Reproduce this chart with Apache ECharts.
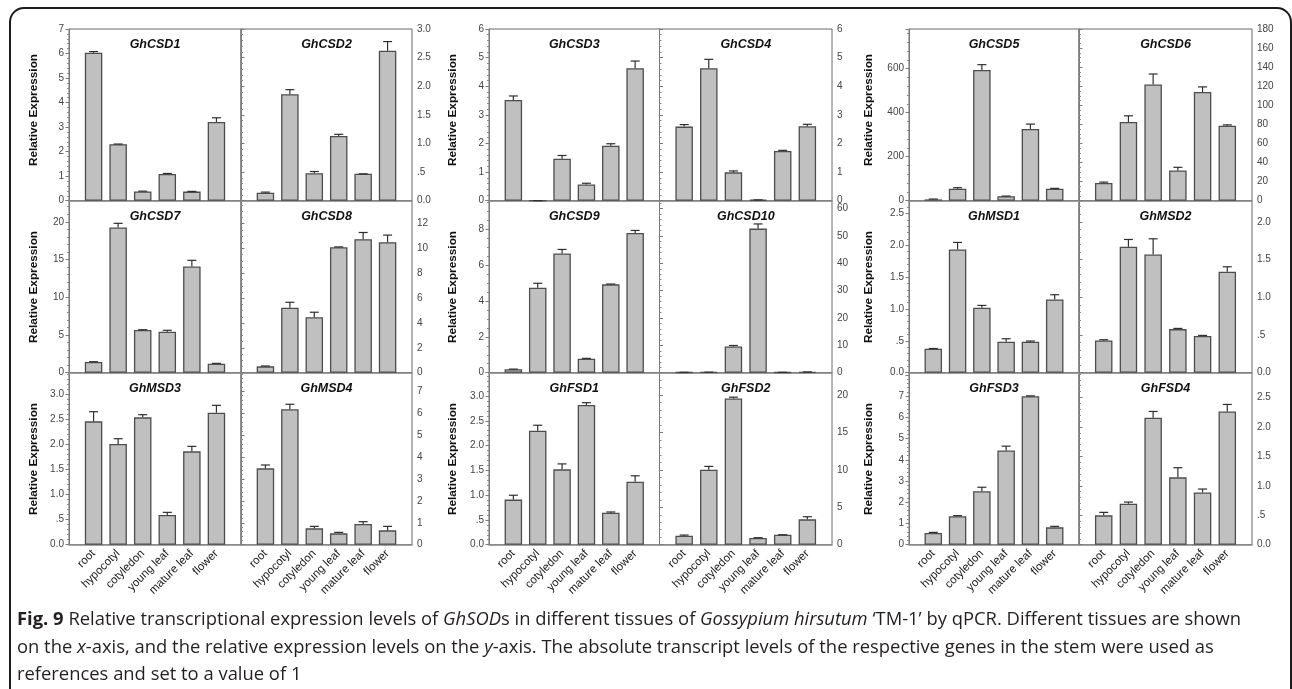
<!DOCTYPE html>
<html>
<head>
<meta charset="utf-8">
<script src="https://cdn.jsdelivr.net/npm/echarts@6/dist/echarts.min.js"></script>
<style>
  html, body { margin: 0; padding: 0; background: #ffffff; }
  #chart { width: 1292px; height: 689px; }
</style>
</head>
<body>
<div id="chart"></div>
<script>
// Tissues on the x-axis
const tissues = ['root', 'hypocotyl', 'cotyledon', 'young leaf', 'mature leaf', 'flower'];

// Relative expression (mean) and standard deviation per gene, in tissue order
const GhCSD1 = [6.03, 2.30, 0.38, 1.09, 0.37, 3.21];
const GhCSD1_sd = [0.05, 0.01, 0.01, 0.02, 0.01, 0.17];
const GhCSD2 = [0.14, 1.86, 0.48, 1.13, 0.47, 2.62];
const GhCSD2_sd = [0.01, 0.08, 0.03, 0.03, 0.00, 0.16];
const GhCSD3 = [3.52, 0.00, 1.47, 0.57, 1.92, 4.63];
const GhCSD3_sd = [0.14, 0.00, 0.11, 0.04, 0.07, 0.25];
const GhCSD4 = [2.59, 4.63, 0.99, 0.03, 1.74, 2.60];
const GhCSD4_sd = [0.07, 0.31, 0.05, 0.00, 0.02, 0.07];
const GhCSD5 = [6, 54, 594, 20, 326, 54];
const GhCSD5_sd = [1.5, 5, 24, 1, 22, 2];
const GhCSD6 = [18.5, 82.5, 121.8, 31.6, 114, 78.5];
const GhCSD6_sd = [1.0, 6.5, 11, 3.4, 5.3, 1.0];
const GhCSD7 = [1.42, 19.25, 5.66, 5.44, 14.07, 1.19];
const GhCSD7_sd = [0.04, 0.55, 0.04, 0.18, 0.83, 0.05];
const GhCSD8 = [0.51, 5.24, 4.46, 10.10, 10.75, 10.51];
const GhCSD8_sd = [0.03, 0.43, 0.41, 0.03, 0.54, 0.57];
const GhCSD9 = [0.19, 4.74, 6.66, 0.78, 4.93, 7.80];
const GhCSD9_sd = [0.01, 0.25, 0.22, 0.02, 0.02, 0.14];
const GhCSD10 = [0.15, 0.20, 9.6, 52.7, 0.15, 0.25];
const GhCSD10_sd = [0.00, 0.00, 0.35, 1.7, 0.00, 0.05];
const GhMSD1 = [0.377, 1.935, 1.02, 0.486, 0.486, 1.15];
const GhMSD1_sd = [0.003, 0.11, 0.036, 0.047, 0.011, 0.074];
const GhMSD2 = [0.428, 1.669, 1.567, 0.578, 0.486, 1.338];
const GhMSD2_sd = [0.009, 0.097, 0.208, 0.009, 0.008, 0.066];
const GhMSD3 = [2.467, 2.013, 2.547, 0.593, 1.867, 2.64];
const GhMSD3_sd = [0.193, 0.107, 0.053, 0.054, 0.10, 0.147];
const GhMSD4 = [3.485, 6.18, 0.746, 0.518, 0.944, 0.654];
const GhMSD4_sd = [0.153, 0.23, 0.091, 0.045, 0.106, 0.183];
const GhFSD1 = [0.91, 2.30, 1.52, 2.817, 0.645, 1.27];
const GhFSD1_sd = [0.088, 0.11, 0.11, 0.048, 0.015, 0.12];
const GhFSD2 = [1.2, 10.02, 19.55, 0.89, 1.34, 3.39];
const GhFSD2_sd = [0.09, 0.45, 0.18, 0.05, 0.00, 0.35];
const GhFSD3 = [0.55, 1.337, 2.517, 4.436, 6.99, 0.818];
const GhFSD3_sd = [0.03, 0.033, 0.189, 0.204, 0.02, 0.047];
const GhFSD4 = [0.498, 0.696, 2.155, 1.143, 0.888, 2.262];
const GhFSD4_sd = [0.051, 0.028, 0.107, 0.164, 0.057, 0.119];

// Panel order: row by row, each block holds a left-axis and a right-axis panel
const geneNames = ['GhCSD1', 'GhCSD2', 'GhCSD3', 'GhCSD4', 'GhCSD5', 'GhCSD6',
                   'GhCSD7', 'GhCSD8', 'GhCSD9', 'GhCSD10', 'GhMSD1', 'GhMSD2',
                   'GhMSD3', 'GhMSD4', 'GhFSD1', 'GhFSD2', 'GhFSD3', 'GhFSD4'];
const geneMeans = [GhCSD1, GhCSD2, GhCSD3, GhCSD4, GhCSD5, GhCSD6,
                   GhCSD7, GhCSD8, GhCSD9, GhCSD10, GhMSD1, GhMSD2,
                   GhMSD3, GhMSD4, GhFSD1, GhFSD2, GhFSD3, GhFSD4];
const geneSds = [GhCSD1_sd, GhCSD2_sd, GhCSD3_sd, GhCSD4_sd, GhCSD5_sd, GhCSD6_sd,
                 GhCSD7_sd, GhCSD8_sd, GhCSD9_sd, GhCSD10_sd, GhMSD1_sd, GhMSD2_sd,
                 GhMSD3_sd, GhMSD4_sd, GhFSD1_sd, GhFSD2_sd, GhFSD3_sd, GhFSD4_sd];

// Y-axis scales per panel: range, tick step, minor subdivisions, highest labelled tick
const yMax  = [7, 3, 6, 6, 780, 180, 22.8, 13.85, 9.6, 62.9, 2.7, 2.28, 3.44, 7.85, 3.47, 23, 8.1, 2.92];
const yStep = [1, 0.5, 1, 1, 200, 20, 5, 2, 2, 10, 0.5, 0.5, 0.5, 1, 0.5, 5, 1, 0.5];
const yMinor = [5, 5, 5, 5, 5, 4, 5, 4, 4, 5, 5, 5, 5, 5, 5, 5, 5, 5];
const yTopLabel = [7, 3, 6, 6, 600, 180, 20, 12, 8, 60, 2.5, 2, 3, 7, 3, 20, 7, 2.5];

// Page layout (pixels)
const colLeft = [69, 489, 909];
const colMid = [241, 659.5, 1079];
const colRight = [412, 832, 1252];
const rowTop = [29, 200.7, 372.7];
const rowHeight = [171.7, 172, 172];
const yTitleX = [34, 453, 869];
const yTitleY = [110, 287, 459];

const AXIS_FONT = '"Liberation Sans", Arial, Helvetica, sans-serif';

function tickFormatter(step, topLabel) {
  return function (v) {
    const r = v / step;
    if (Math.abs(r - Math.round(r)) > 1e-6) return '';
    if (v > topLabel + 1e-9) return '';
    if (step >= 1) return String(Math.round(v));
    let s = v.toFixed(1);
    if (s === '0.5') s = '.5';
    return s;
  };
}

const grids = [], xAxes = [], yAxes = [], series = [], graphics = [];

for (let row = 0; row < 3; row++) {
  for (let block = 0; block < 3; block++) {
    for (let side = 0; side < 2; side++) {
      const k = row * 6 + block * 2 + side;
      const left = side ? colMid[block] : colLeft[block];
      const width = side ? colRight[block] - colMid[block] : colMid[block] - colLeft[block];
      grids.push({
        left: left, top: rowTop[row], width: width, height: rowHeight[row],
        show: true, borderColor: '#6a6a6a', borderWidth: 1,
        backgroundColor: 'transparent',
        containLabel: false, outerBoundsMode: 'none'
      });
      xAxes.push({
        type: 'value', gridIndex: k, min: 0, max: 7, interval: 1,
        axisLine: { show: true, onZero: false, lineStyle: { color: '#8c8c8c', width: 1.6 } },
        axisTick: { show: false },
        splitLine: { show: false },
        axisLabel: {
          show: row === 2, rotate: 45, margin: 7, fontSize: 11.5,
          fontFamily: AXIS_FONT, color: '#1a1a1a',
          formatter: function (v) { return tissues[Math.round(v) - 1] || ''; }
        }
      });
      yAxes.push({
        type: 'value', gridIndex: k, min: 0, max: yMax[k], interval: yStep[k],
        position: side ? 'right' : 'left',
        axisLine: { show: true, lineStyle: { color: '#7a7a7a', width: 1 } },
        axisTick: { show: true, inside: false, length: 3.5, lineStyle: { color: '#7a7a7a' } },
        minorTick: { show: true, splitNumber: yMinor[k], length: 2, lineStyle: { color: '#8a8a8a' } },
        splitLine: { show: false },
        axisLabel: {
          margin: 5, fontSize: 10, fontFamily: AXIS_FONT, color: '#444',
          formatter: tickFormatter(yStep[k], yTopLabel[k])
        }
      });
      const barData = geneMeans[k].map((m, i) => [i + 1, m]);
      const errData = geneMeans[k].map((m, i) => [i + 1, m, geneSds[k][i]]);
      series.push({
        type: 'bar', xAxisIndex: k, yAxisIndex: k, data: barData,
        barWidth: 17.5, silent: true,
        itemStyle: { color: '#c0c0c0', borderColor: '#4d4d4d', borderWidth: 1.3 }
      });
      series.push({
        type: 'custom', xAxisIndex: k, yAxisIndex: k, data: errData, silent: true, z: 5,
        encode: { x: 0, y: 1 },
        renderItem: function (params, api) {
          const x = api.value(0), m = api.value(1), s = api.value(2);
          const base = api.coord([x, m]);
          const top = api.coord([x, m + s]);
          const st = { stroke: '#2e2e2e', lineWidth: 1.2 };
          return {
            type: 'group',
            children: [
              { type: 'line', shape: { x1: base[0], y1: base[1], x2: top[0], y2: top[1] }, style: st },
              { type: 'line', shape: { x1: top[0] - 4.5, y1: top[1], x2: top[0] + 4.5, y2: top[1] }, style: st }
            ]
          };
        }
      });
      // gene name above each panel
      graphics.push({
        type: 'text', x: left + width / 2, y: rowTop[row] + 15.5, silent: true,
        style: {
          text: geneNames[k], fontSize: 12.5, fontWeight: 'bold', fontStyle: 'italic',
          fontFamily: AXIS_FONT, fill: '#111', align: 'center', verticalAlign: 'middle'
        }
      });
    }
    // y-axis title per block
    graphics.push({
      type: 'text', x: yTitleX[block], y: yTitleY[row], rotation: Math.PI / 2, silent: true,
      style: {
        text: 'Relative Expression', fontSize: 11.8, fontWeight: 'bold',
        fontFamily: AXIS_FONT, fill: '#111', align: 'center', verticalAlign: 'middle'
      }
    });
  }
}

// Figure caption
const CAP_FONT = '"Open Sans", "Liberation Sans", sans-serif';
const CAP_SIZE = 18.5;
const captionLines = [
  [['Fig. 9', 'b'], [' Relative transcriptional expression levels of ', ''], ['GhSOD', 'i'],
   ['s in different tissues of ', ''], ['Gossypium hirsutum', 'i'],
   [' \u2018TM-1\u2019 by qPCR. Different tissues are shown', '']],
  [['on the ', ''], ['x', 'i'], ['-axis, and the relative expression levels on the ', ''], ['y', 'i'],
   ['-axis. The absolute transcript levels of the respective genes in the stem were used as', '']],
  [['references and set to a value of 1', '']]
];
const captionY = [620, 647.5, 675];

const measureCtx = document.createElement('canvas').getContext('2d');
function segFont(kind) {
  const style = kind === 'i' ? 'italic ' : '';
  const weight = kind === 'b' ? 'bold ' : '';
  return style + weight + CAP_SIZE + 'px ' + CAP_FONT;
}
function lineWidth(segs) {
  let w = 0;
  segs.forEach(([t, kind]) => { measureCtx.font = segFont(kind); w += measureCtx.measureText(t).width; });
  return w;
}
const capScale = (1241 - 17) / lineWidth(captionLines[0]);

captionLines.forEach((segs, li) => {
  const text = segs.map(([t, kind]) => kind ? '{' + kind + '|' + t + '}' : t).join('');
  graphics.push({
    type: 'text', x: 17, y: captionY[li], scaleX: capScale, scaleY: 1, silent: true,
    style: {
      text: text, fontSize: CAP_SIZE, fontFamily: CAP_FONT, fill: '#231f20',
      verticalAlign: 'middle', align: 'left',
      rich: {
        b: { fontWeight: 'bold', fontSize: CAP_SIZE, fontFamily: CAP_FONT, fill: '#231f20' },
        i: { fontStyle: 'italic', fontSize: CAP_SIZE, fontFamily: CAP_FONT, fill: '#231f20' }
      }
    }
  });
});

// Rounded frame around the figure
graphics.push({
  type: 'rect', silent: true, z: -1,
  shape: { x: 10, y: 8, width: 1281, height: 720, r: 14 },
  style: { fill: 'none', stroke: '#1c1c1c', lineWidth: 2 }
});

const chart = echarts.init(document.getElementById('chart'), null, { renderer: 'canvas' });
chart.setOption({
  animation: false,
  backgroundColor: '#ffffff',
  grid: grids,
  xAxis: xAxes,
  yAxis: yAxes,
  series: series,
  graphic: graphics
});
</script>
</body>
</html>
